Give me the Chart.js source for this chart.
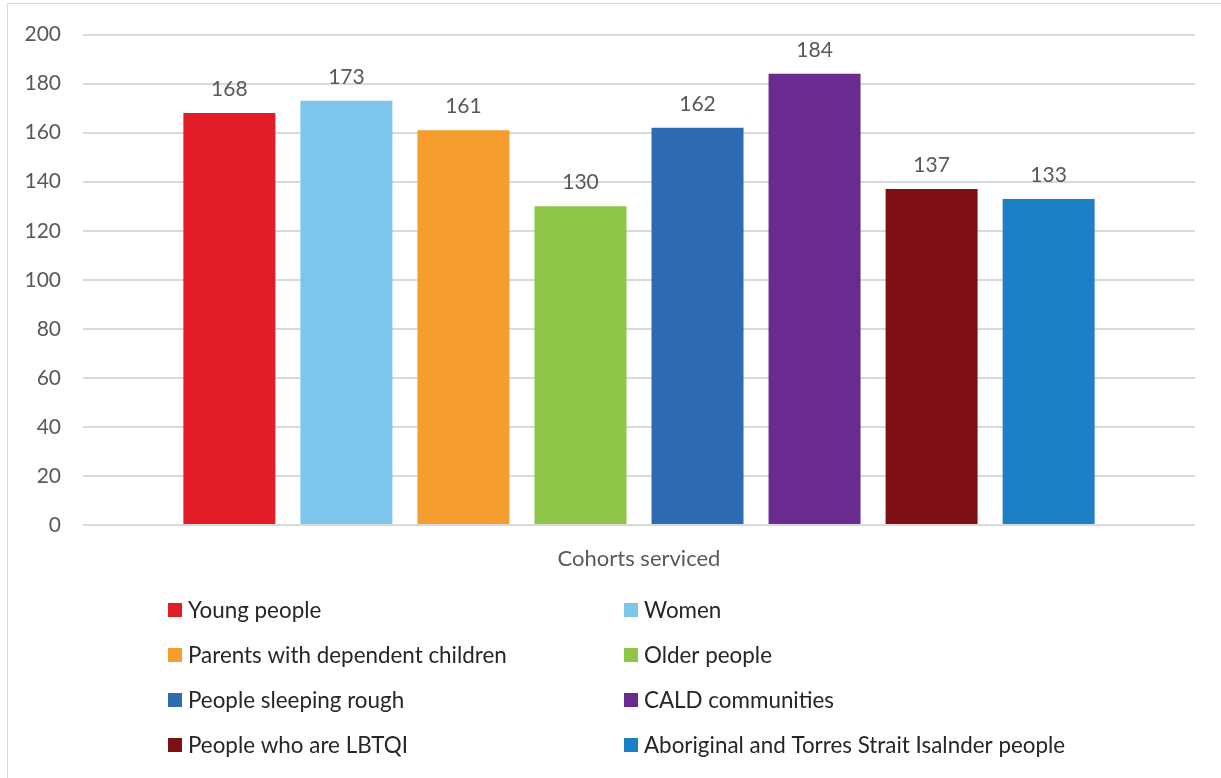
<!DOCTYPE html>
<html>
<head>
<meta charset="utf-8">
<script src="https://cdn.jsdelivr.net/npm/chart.js@4.4.1/dist/chart.umd.min.js"></script>
<style>
  html, body { margin: 0; padding: 0; background: #fff; }
  #wrap { width: 1221px; height: 778px; position: relative; }
</style>
</head>
<body>
<div id="wrap"><canvas id="cohortChart"></canvas></div>
<script>
// Cohorts serviced - one category, one bar per cohort
const categories = ['Cohorts serviced'];
const cohorts = [
    'Young people',
    'Women',
    'Parents with dependent children',
    'Older people',
    'People sleeping rough',
    'CALD communities',
    'People who are LBTQI',
    'Aboriginal and Torres Strait Isalnder people'
];
const counts = [168, 173, 161, 130, 162, 184, 137, 133];
const colours = ['#E31D27', '#7EC5EC', '#F59D2F', '#8FC64A', '#2F6BB3', '#6A2B91', '#7E1015', '#1E80C4'];

const FONT = 'Lato, "Open Sans", sans-serif';

// value labels above bars
const barValues = {
    id: 'barValues',
    afterDatasetsDraw(chart) {
        const c = chart.ctx;
        c.save();
        c.font = '21px ' + FONT;
        c.fillStyle = '#595959';
        c.textAlign = 'center';
        c.textBaseline = 'middle';
        chart.data.datasets.forEach((ds, i) => {
            chart.getDatasetMeta(i).data.forEach((bar, j) => {
                c.fillText(ds.data[j], bar.x, bar.y - 24);
            });
        });
        c.restore();
    }
};

// two column legend under the axis, plus the outer frame
const gridLegend = {
    id: 'gridLegend',
    afterDraw(chart) {
        const c = chart.ctx;
        c.save();
        c.strokeStyle = '#d9d9d9';
        c.lineWidth = 1;
        c.strokeRect(7.5, 3.5, 1240, 800);
        c.font = '22.4px ' + FONT;
        c.textBaseline = 'middle';
        chart.data.datasets.forEach((ds, i) => {
            const col = i % 2;
            const row = Math.floor(i / 2);
            const x = col === 0 ? 168 : 624;
            const y = 610 + row * 45;
            c.fillStyle = ds.backgroundColor;
            c.fillRect(x, y - 7, 14, 14);
            c.fillStyle = '#262626';
            c.fillText(ds.label, x + 20, y + 1);
        });
        c.restore();
    }
};

const ctx = document.getElementById('cohortChart').getContext('2d');
const cohortChart = new Chart(ctx, {
    type: 'bar',
    data: {
        labels: categories,
        datasets: cohorts.map((name, i) => ({
            label: name,
            data: [counts[i]],
            backgroundColor: colours[i],
            borderWidth: 0
        }))
    },
    options: {
        responsive: true,
        maintainAspectRatio: false,
        animation: false,
        categoryPercentage: 0.842,
        barPercentage: 0.786,
        layout: {
            padding: { left: 10, right: 26, top: 33, bottom: 200 }
        },
        plugins: {
            legend: { display: false },
            tooltip: { enabled: false }
        },
        scales: {
            x: {
                grid: { display: false },
                border: { display: false },
                ticks: {
                    color: '#595959',
                    font: { family: FONT, size: 22 },
                    padding: 13
                },
                afterFit(scale) { scale.height = 53; }
            },
            y: {
                min: 0,
                max: 200,
                ticks: {
                    stepSize: 20,
                    color: '#595959',
                    font: { family: FONT, size: 21 },
                    padding: 22
                },
                grid: { color: '#d9d9d9', lineWidth: 2, drawTicks: false },
                border: { display: false },
                afterFit(scale) { scale.width = 73; }
            }
        }
    },
    plugins: [barValues, gridLegend]
});
</script>
</body>
</html>
